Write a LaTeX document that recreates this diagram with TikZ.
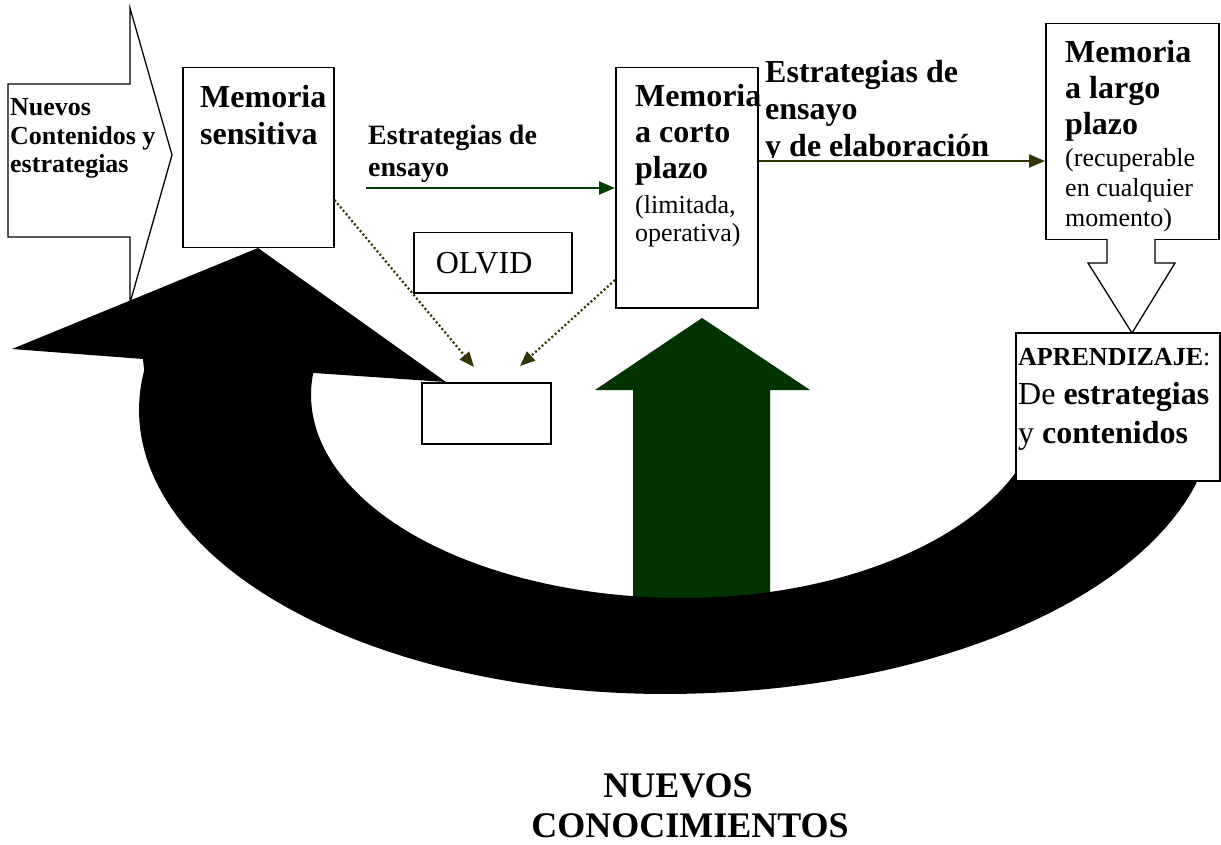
\documentclass[tikz,border=0pt]{standalone}
\usepackage{fontspec}
\setmainfont{Liberation Serif}
\usetikzlibrary{arrows.meta}
\definecolor{lgreen}{RGB}{0,64,0}
\definecolor{olivec}{RGB}{51,51,0}
\definecolor{bgreen}{RGB}{0,51,0}
\newcommand{\tl}[1]{\begin{tabular}[t]{@{}l@{}}#1\end{tabular}}
\newcommand{\fs}[2]{\fontsize{#1}{#2}\selectfont}
\tikzset{
  box/.style={draw=black, line width=1.5pt, fill=white, inner sep=0pt, anchor=north west},
  txt/.style={anchor=base west, inner sep=0pt},
  shapeline/.style={draw=black, line width=1.3pt, fill=white, line join=miter},
  solidarrow/.style={line width=2pt, -{Triangle[length=16pt,width=13pt]}},
  dotarrow/.style={draw=olivec, line width=2.2pt, dash pattern=on 2pt off 2.4pt,
    -{Triangle[length=15pt,width=12pt,fill=olivec]}}
}
\begin{document}
\begin{tikzpicture}[x=1pt,y=-1pt]
\useasboundingbox (0,0) rectangle (1221,845);
\fill[white] (0,0) rectangle (1221,845);

% white block arrow (Nuevos contenidos)
\path[shapeline] (8,84) -- (130,84) -- (130,8) -- (172,155) -- (130,303) -- (130,237) -- (8,237) -- cycle;

% green block arrow
\fill[bgreen] (702,318) -- (810,390) -- (770,390) -- (770,612) -- (633,612) -- (633,390) -- (595,390) -- cycle;

% black curved arrow
\fill[black] (258,248) -- (446,382) -- (314,373)
  -- plot[domain=186:90, samples=50, variable=\t] ({683+372*cos(\t)}, {395+203*sin(\t)})
  -- plot[domain=90:18, samples=40, variable=\t] ({683+360*cos(\t)}, {395+203*sin(\t)})
  -- (1040,450) -- (1200,450)
  -- plot[domain=15:90, samples=40, variable=\t] ({665+550*cos(\t)}, {410+284*sin(\t)})
  -- plot[domain=90:188, samples=50, variable=\t] ({665+526*cos(\t)}, {410+284*sin(\t)})
  -- (143,359) -- (12,349) -- cycle;

% boxes
\node[box, minimum width=151pt, minimum height=180pt] (ms) at (182,67) {};
\node[box, minimum width=142pt, minimum height=240pt] (ct) at (615,67) {};
\node[box, minimum width=173pt, minimum height=216pt] (lt) at (1045,23) {};
\node[box, minimum width=204pt, minimum height=148pt] (ap) at (1015,332) {};
\node[box, minimum width=129pt, minimum height=61pt] (vac) at (421,382) {};
\node[box, minimum width=158pt, minimum height=60pt, text width=114pt, inner xsep=22pt, align=left, font=\fs{32}{37}] (olv) at (413,232) {OLVID};

% down block arrow from long-term memory
\path[shapeline] (1107,239) -- (1107,263) -- (1088,263) -- (1132,333) -- (1175,263) -- (1155,263) -- (1155,239);

% texts
\node[txt, font=\fs{26}{28.5}\bfseries] (tnuevos) at (10,116) {\tl{Nuevos\\ Contenidos y\\ estrategias}};
\node[txt, font=\fs{32}{37}\bfseries] (tms) at (200,108) {\tl{Memoria\\ sensitiva}};
\node[txt, font=\fs{28}{32}\bfseries] (test1) at (368,145) {\tl{Estrategias de\\ ensayo}};
\node[txt, font=\fs{32}{36}\bfseries] (tct) at (635,107) {\tl{Memoria\\ a corto\\ plazo\\[-1pt] \fs{26}{30}\mdseries (limitada,\\[-8pt] \fs{26}{30}\mdseries operativa)}};
\begin{scope}
\clip (740,30) rectangle (1040,157.5);
\node[txt, font=\fs{32}{37}\bfseries] (test2) at (765,83) {\tl{Estrategias de\\ ensayo\\ y de elaboración}};
\end{scope}
\node[txt, font=\fs{32}{36}\bfseries] (tlt) at (1065,63) {\tl{Memoria\\ a largo\\ plazo\\[-4pt] \fs{26}{30}\mdseries (recuperable\\[-6pt] \fs{26}{30}\mdseries en cualquier\\[-6pt] \fs{26}{30}\mdseries momento)}};
\node[txt, font=\fs{32}{39}] (tap) at (1018,365) {\tl{\fs{26}{30}\bfseries APRENDIZAJE\mdseries:\\ De \textbf{estrategias}\\ y \textbf{contenidos}}};
\node[anchor=base, inner sep=0pt, font=\fs{36}{40}\bfseries] (tnc) at (690,797) {\begin{tabular}[t]{@{}c@{}}NUEVOS\kern24pt\\ CONOCIMIENTOS\end{tabular}};

% connectors
\coordinate (g0) at (366,188);
\draw[solidarrow, draw=lgreen, fill=lgreen] (g0) -- (ct.west |- 0,188);
\draw[solidarrow, draw=olivec, fill=olivec] (ct.east |- 0,161) -- (lt.west |- 0,161);
\coordinate (d1) at (474,367);
\coordinate (d2) at (520,366);
\draw[dotarrow] (ms.east |- 0,200) -- (d1);
\draw[dotarrow] (ct.west |- 0,280) -- (d2);
\end{tikzpicture}
\end{document}
